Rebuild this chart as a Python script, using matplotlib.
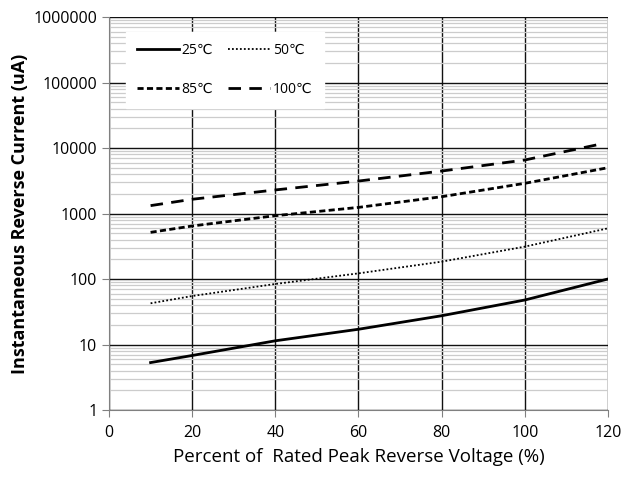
import numpy as np
import matplotlib.pyplot as plt
from matplotlib.ticker import LogLocator, FixedLocator, NullFormatter

# values
voltage = [10, 20, 40, 60, 80, 100, 120]
i_25 = [5.3, 6.8, 11.4, 17.1, 27.5, 47.8, 100]
i_50 = [42.6, 55, 84, 122, 184, 312, 594]
i_85 = [516, 645, 926, 1240, 1805, 2890, 5000]
voltage_100 = [10, 20, 40, 60, 80, 100, 118]
i_100 = [1320, 1650, 2290, 3130, 4450, 6560, 11400]

y_ticks = [1, 10, 100, 1000, 10000, 100000, 1000000]
x_ticks = [0, 20, 40, 60, 80, 100, 120]

plt.rcParams['font.family'] = ['Open Sans', 'DejaVu Sans']

fig = plt.figure(figsize=(6.28, 4.79), dpi=100)
ax = fig.add_axes([0.1736, 0.144, 0.7944, 0.8205])

ax.set_yscale('log')
ax.set_xlim(0, 120)
ax.set_ylim(1, 1000000)

# grid
ax.yaxis.set_minor_locator(LogLocator(base=10, subs=np.arange(2, 10)))
ax.yaxis.set_minor_formatter(NullFormatter())
ax.grid(True, which='minor', axis='y', color='#cccccc', lw=0.9)
ax.grid(True, which='major', axis='y', color='#111111', lw=1)
ax.grid(True, which='major', axis='x', color='#111111', lw=1)
ax.set_axisbelow(True)

ax.plot(voltage, i_25, color='black', lw=2, ls='-', label='25℃')
ax.plot(voltage, i_50, color='black', lw=1.3, ls=(0, (1, 1.2)), label='50℃')
ax.plot(voltage, i_85, color='black', lw=2, ls=(0, (2.2, 1.2)), label='85℃')
ax.plot(voltage_100, i_100, color='black', lw=2, ls=(0, (4.5, 3)), label='100℃')

ax.yaxis.set_major_locator(FixedLocator(y_ticks))
ax.set_yticklabels([str(v) for v in y_ticks])
ax.set_xticks(x_ticks)
ax.tick_params(axis='both', which='major', labelsize=11.5, color='#808080', length=5)
ax.tick_params(axis='x', pad=6)
ax.tick_params(axis='y', which='minor', length=0)

for s in ['top', 'right']:
    ax.spines[s].set_visible(False)
for s in ['left', 'bottom']:
    ax.spines[s].set_color('#808080')

ax.set_xlabel('Percent of  Rated Peak Reverse Voltage (%)', fontsize=13.5, labelpad=5)
ax.set_ylabel('Instantaneous Reverse Current (uA)', fontsize=13, fontweight='bold', labelpad=3)

# legend in order: 25, 50 / 85, 100 across rows
h, l = ax.get_legend_handles_labels()
order = [0, 2, 1, 3]
leg = ax.legend([h[i] for i in order], [l[i] for i in order], ncol=2,
                loc='upper left', bbox_to_anchor=(0.02, 0.98), frameon=True,
                fancybox=False, edgecolor='white', framealpha=1,
                fontsize=10, handlelength=3.0, handletextpad=0.2,
                columnspacing=1.1, labelspacing=1.75, borderpad=0.8)

fig.savefig('out.png', dpi=100)
